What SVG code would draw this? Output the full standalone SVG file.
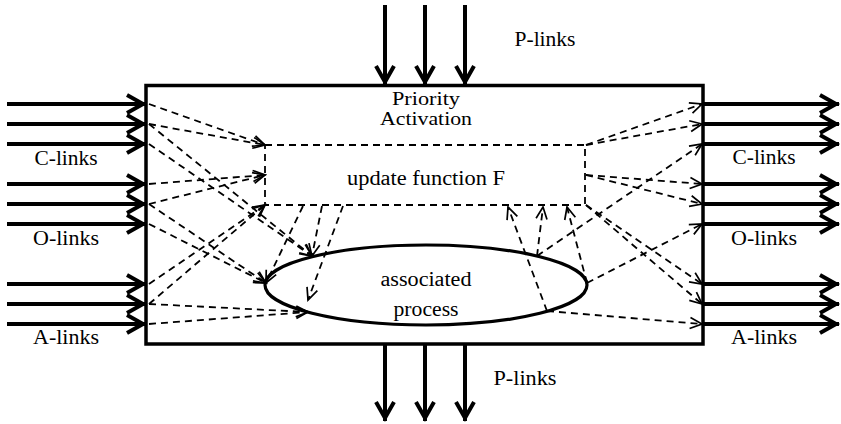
<svg xmlns="http://www.w3.org/2000/svg" width="841" height="424" viewBox="0 0 841 424">
<style>
.box{fill:none;stroke:#000;stroke-width:3.5}
.thick{stroke:#000;stroke-width:4;fill:none;marker-end:url(#big)}
.dash{stroke:#000;stroke-width:1.8;fill:none;stroke-dasharray:7 5;marker-end:url(#small)}
.dbox{fill:none;stroke:#000;stroke-width:1.8;stroke-dasharray:7 5}
.ell{fill:none;stroke:#000;stroke-width:3.2}
text{font-family:"Liberation Serif","DejaVu Serif",serif;font-size:20px;fill:#000;text-anchor:middle}
.small{font-size:18px}
</style>
<defs>
<marker id="big" markerUnits="userSpaceOnUse" orient="auto" overflow="visible" refX="0" refY="0" markerWidth="1" markerHeight="1">
<path d="M-19,-9 L-3,0 L-19,9" fill="none" stroke="#000" stroke-width="4"/>
</marker>
<marker id="small" markerUnits="userSpaceOnUse" orient="auto" overflow="visible" refX="0" refY="0" markerWidth="1" markerHeight="1">
<path d="M-12,-5.5 L0,0 L-12,5.5" fill="none" stroke="#000" stroke-width="1.7"/>
</marker>
</defs>

<g font-family="Liberation Serif, DejaVu Serif, serif">
<g id="module">
<rect class="box" x="146" y="85.5" width="557" height="258.5"/>
<text class="small" x="426" y="105" textLength="68" lengthAdjust="spacingAndGlyphs">Priority</text>
<text class="small" x="426" y="125" textLength="92" lengthAdjust="spacingAndGlyphs">Activation</text>
</g>

<g id="updateF">
<rect class="dbox" x="265" y="145" width="320" height="60"/>
<text x="426" y="185" textLength="158" lengthAdjust="spacingAndGlyphs">update function F</text>
</g>

<g id="process">
<ellipse class="ell" cx="426" cy="285" rx="161" ry="40"/>
<text x="426" y="286" textLength="91" lengthAdjust="spacingAndGlyphs">associated</text>
<text x="426" y="316" textLength="65" lengthAdjust="spacingAndGlyphs">process</text>
</g>

<g id="labels">
<text x="545" y="46" textLength="61" lengthAdjust="spacingAndGlyphs">P-links</text>
<text x="525" y="385" textLength="63" lengthAdjust="spacingAndGlyphs">P-links</text>
<text x="66" y="165" textLength="63" lengthAdjust="spacingAndGlyphs">C-links</text>
<text x="66" y="245" textLength="66" lengthAdjust="spacingAndGlyphs">O-links</text>
<text x="66" y="344" textLength="66" lengthAdjust="spacingAndGlyphs">A-links</text>
<text x="764" y="164" textLength="63" lengthAdjust="spacingAndGlyphs">C-links</text>
<text x="764" y="245" textLength="66" lengthAdjust="spacingAndGlyphs">O-links</text>
<text x="764" y="344" textLength="66" lengthAdjust="spacingAndGlyphs">A-links</text>
</g>
</g>

<g id="connectors">
<!-- input links -->
<line class="thick" x1="7" y1="104" x2="146" y2="104"/>
<line class="thick" x1="7" y1="124" x2="146" y2="124"/>
<line class="thick" x1="7" y1="144" x2="146" y2="144"/>
<line class="thick" x1="7" y1="184" x2="146" y2="184"/>
<line class="thick" x1="7" y1="204" x2="146" y2="204"/>
<line class="thick" x1="7" y1="224" x2="146" y2="224"/>
<line class="thick" x1="7" y1="284" x2="146" y2="284"/>
<line class="thick" x1="7" y1="304" x2="146" y2="304"/>
<line class="thick" x1="7" y1="324" x2="146" y2="324"/>
<!-- output links -->
<line class="thick" x1="704" y1="104" x2="839" y2="104"/>
<line class="thick" x1="704" y1="124" x2="839" y2="124"/>
<line class="thick" x1="704" y1="144" x2="839" y2="144"/>
<line class="thick" x1="704" y1="184" x2="839" y2="184"/>
<line class="thick" x1="704" y1="204" x2="839" y2="204"/>
<line class="thick" x1="704" y1="224" x2="839" y2="224"/>
<line class="thick" x1="704" y1="284" x2="839" y2="284"/>
<line class="thick" x1="704" y1="304" x2="839" y2="304"/>
<line class="thick" x1="704" y1="324" x2="839" y2="324"/>
<!-- P-links in -->
<line class="thick" x1="385" y1="5" x2="385" y2="85"/>
<line class="thick" x1="425" y1="5" x2="425" y2="85"/>
<line class="thick" x1="465" y1="5" x2="465" y2="85"/>
<!-- P-links out -->
<line class="thick" x1="385" y1="344" x2="385" y2="421"/>
<line class="thick" x1="425" y1="344" x2="425" y2="421"/>
<line class="thick" x1="465" y1="344" x2="465" y2="421"/>

<!-- inputs to F and process -->
<line class="dash" x1="149" y1="104" x2="265" y2="145"/>
<line class="dash" x1="149" y1="124" x2="265" y2="145"/>
<line class="dash" x1="149" y1="124" x2="312" y2="256"/>
<line class="dash" x1="149" y1="144" x2="312" y2="256"/>
<line class="dash" x1="149" y1="184" x2="265" y2="175"/>
<line class="dash" x1="149" y1="204" x2="265" y2="175"/>
<line class="dash" x1="149" y1="204" x2="266" y2="283"/>
<line class="dash" x1="149" y1="224" x2="266" y2="283"/>
<line class="dash" x1="149" y1="284" x2="265" y2="205"/>
<line class="dash" x1="149" y1="304" x2="265" y2="205"/>
<line class="dash" x1="149" y1="304" x2="308" y2="312"/>
<line class="dash" x1="149" y1="324" x2="308" y2="312"/>

<!-- F to process -->
<line class="dash" x1="303" y1="206" x2="266" y2="283"/>
<line class="dash" x1="322" y1="206" x2="312" y2="256"/>
<line class="dash" x1="343" y1="206" x2="308" y2="300"/>

<!-- process to F -->
<line class="dash" x1="547" y1="311" x2="508" y2="207"/>
<line class="dash" x1="537" y1="256" x2="543" y2="207"/>
<line class="dash" x1="587" y1="283" x2="567" y2="207"/>

<!-- F to outputs -->
<line class="dash" x1="586" y1="145" x2="702" y2="104"/>
<line class="dash" x1="586" y1="145" x2="702" y2="124"/>
<line class="dash" x1="586" y1="175" x2="702" y2="184"/>
<line class="dash" x1="586" y1="175" x2="702" y2="204"/>
<line class="dash" x1="586" y1="205" x2="702" y2="284"/>
<line class="dash" x1="586" y1="205" x2="702" y2="304"/>

<!-- process to outputs -->
<line class="dash" x1="537" y1="256" x2="702" y2="144"/>
<line class="dash" x1="587" y1="283" x2="702" y2="224"/>
<line class="dash" x1="547" y1="311" x2="702" y2="324"/>
</g>
</svg>
